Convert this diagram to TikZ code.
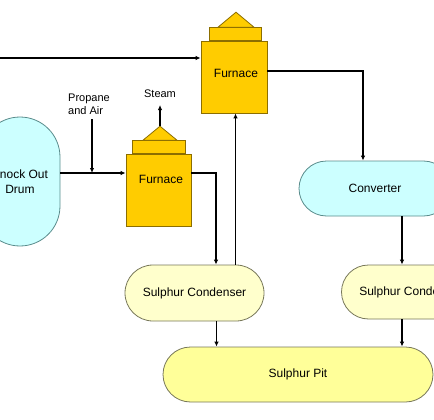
\documentclass[tikz,border=0pt]{standalone}
\usepackage{fontspec}
\setmainfont{Liberation Sans}
\usetikzlibrary{arrows.meta,calc}
\definecolor{furnfill}{RGB}{255,204,0}
\definecolor{furnedge}{RGB}{140,110,0}
\definecolor{drumfill}{RGB}{204,255,255}
\definecolor{drumedge}{RGB}{90,140,140}
\definecolor{condfill}{RGB}{255,255,204}
\definecolor{condedge}{RGB}{120,120,90}
\definecolor{pitfill}{RGB}{255,255,153}
\begin{document}
\begin{tikzpicture}[x=1pt,y=-1pt,
  furnacebox/.style={draw=furnedge,fill=furnfill,line width=0.8pt,minimum width=66pt,minimum height=72pt,inner sep=0pt},
  hoodbox/.style={draw=furnedge,fill=furnfill,line width=0.8pt,minimum width=52pt,minimum height=13pt,inner sep=0pt,anchor=south},
  roof/.style={draw=furnedge,fill=furnfill,line width=0.8pt},
  drumbox/.style={draw=drumedge,fill=drumfill,line width=0.8pt,inner sep=0pt,align=center},
  condbox/.style={draw=condedge,fill=condfill,line width=0.8pt,inner sep=0pt,minimum width=139pt,minimum height=55pt,rounded corners=27.5pt},
  tag/.style={font=\fontsize{11}{13}\selectfont,inner sep=1pt},
  flow/.style={line width=1.2pt,-{Latex[length=5pt,width=4.5pt]}},
  pipe/.style={line width=1.2pt},
  font=\fontsize{12}{15}\selectfont]
\useasboundingbox (0,0) rectangle (434,420);
% units and furnaces
\path node (drum) at (20,181.5) [drumbox,minimum width=80pt,minimum height=129pt,rounded corners=40pt] {Knock Out\\Drum}
node (conv) at (375,188.5) [drumbox,minimum width=152pt,minimum height=55pt,rounded corners=27.5pt] {Converter}
node (cond1) at (194.5,293) [condbox,minimum height=56pt,rounded corners=28pt] {Sulphur Condenser}
node (cond2) at (411,292) [condbox,minimum height=54pt,rounded corners=27pt] {Sulphur Condenser}
node (pit) at (298,374.5) [condbox,fill=pitfill,minimum width=270pt] {Sulphur Pit}
node (furnA) at (234,77) [furnacebox] {}
node (hoodA) at (235,41) [hoodbox] {}
node (furnB) at (158.5,190) [furnacebox,minimum width=65pt] {}
node (hoodB) at (158.5,154) [hoodbox,minimum width=53pt] {};
\draw[roof] ($(hoodA.north)+(-17,0)$) coordinate (ra) -- ($(hoodA.north)+(1,-15)$) coordinate (topA) -- ($(hoodA.north)+(19,0)$) -- cycle;
\draw[roof] ($(hoodB.north)+(-15.5,0)$) -- ($(hoodB.north)+(1.5,-14)$) coordinate (topB) -- ($(hoodB.north)+(18.5,0)$) -- cycle;
\node at (236,73) {Furnace};
\node at (161,179) {Furnace};
% labels
\path node (propane) at (67,104.5) [tag,anchor=west,align=left] {Propane\\and Air}
node (steam) at (160,94) [tag] {Steam};
% pipes
\coordinate (feed) at (0,58);
\coordinate (mix) at (92,173);
\draw[flow] (feed) -- (feed -| furnA.west);
\draw[flow] (drum.east |- mix) -- (furnB.west |- mix);
\draw[flow] (propane.south -| mix) ++(0,3) -- (mix);
\draw[flow] (topB) -- (160,105);
\draw[flow] ([yshift=17pt]furnB.east) -| ([xshift=21.5pt]cond1.north);
\draw[flow] ([xshift=41pt]cond1.north) -- ([xshift=41pt]cond1.north |- furnA.south);
\draw[flow] ([yshift=6pt]furnA.east) -| ([xshift=-12pt]conv.north);
\draw[flow] ([xshift=27pt]conv.south) -- ([xshift=27pt]conv.south |- cond2.north);
\draw[flow] ([xshift=22pt]cond1.south) -- ([xshift=22pt]cond1.south |- pit.north);
\draw[flow] ([xshift=-9pt]cond2.south) -- ([xshift=-9pt]cond2.south |- pit.north);
\end{tikzpicture}
\end{document}
